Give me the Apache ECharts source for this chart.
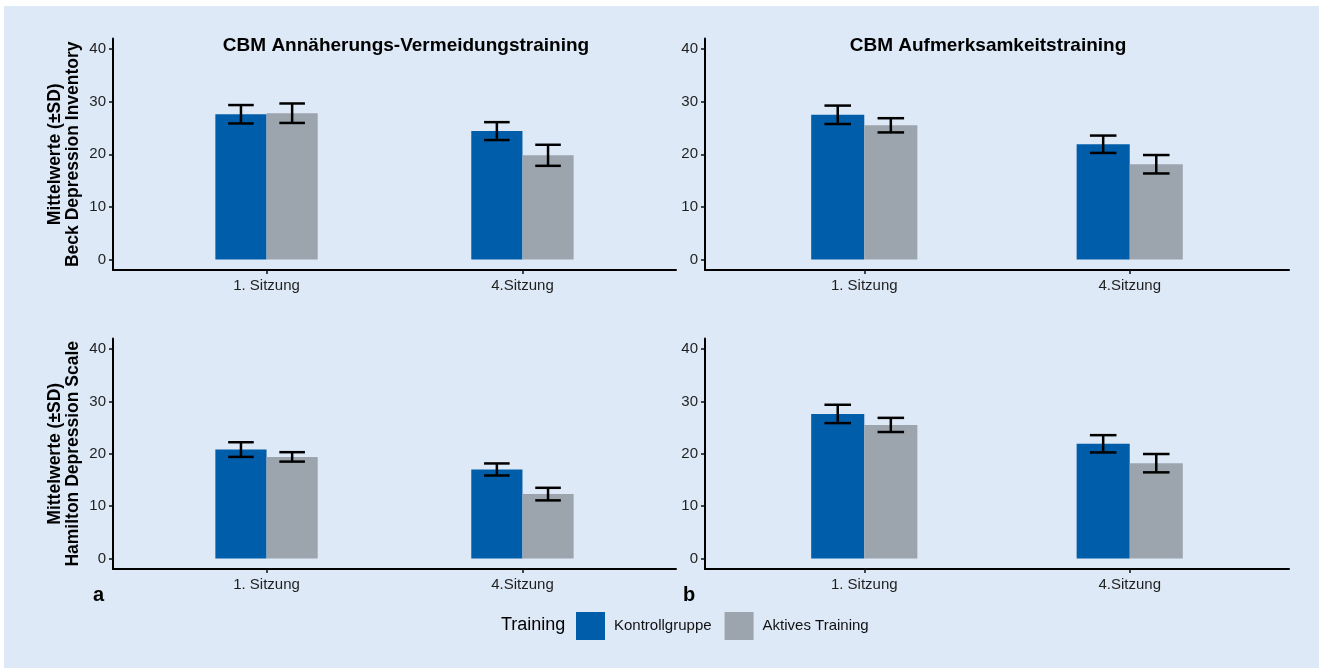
<!DOCTYPE html>
<html>
<head>
<meta charset="utf-8">
<script src="https://cdn.jsdelivr.net/npm/echarts@6/dist/echarts.min.js"></script>
<style>
html,body{margin:0;padding:0;background:#ffffff;}
#c{position:absolute;left:0;top:0;width:1319px;height:668px;}
.strip{position:absolute;background:#ffffff;z-index:5;}
</style>
</head>
<body>
<div id="c"></div>
<div class="strip" style="left:0;top:0;width:1319px;height:6px;"></div>
<div class="strip" style="left:0;top:0;width:4px;height:668px;"></div>
<script>
// ---------- data ----------
const sessions = ['1. Sitzung', '4.Sitzung'];
const groups = ['Kontrollgruppe', 'Aktives Training'];
const yTicks = [0, 10, 20, 30, 40];
const panelTitles = ['CBM Annäherungs-Vermeidungstraining', 'CBM Aufmerksamkeitstraining'];
const scaleTitles = ['Mittelwerte (±SD)\nBeck Depression Inventory', 'Mittelwerte (±SD)\nHamilton Depression Scale'];
const panelLetters = ['a', 'b'];
const legendTitle = 'Training';

// BDI – Annäherungs-Vermeidungstraining
const bdiAvKontrollMean = [27.6, 24.4];
const bdiAvKontrollSD = [1.75, 1.7];
const bdiAvAktivMean = [27.8, 19.8];
const bdiAvAktivSD = [1.85, 2.0];
// BDI – Aufmerksamkeitstraining
const bdiAtKontrollMean = [27.5, 21.9];
const bdiAtKontrollSD = [1.75, 1.65];
const bdiAtAktivMean = [25.5, 18.1];
const bdiAtAktivSD = [1.35, 1.75];
// HAMD – Annäherungs-Vermeidungstraining
const hamdAvKontrollMean = [20.8, 17.0];
const hamdAvKontrollSD = [1.4, 1.15];
const hamdAvAktivMean = [19.4, 12.3];
const hamdAvAktivSD = [0.9, 1.2];
// HAMD – Aufmerksamkeitstraining
const hamdAtKontrollMean = [27.6, 21.9];
const hamdAtKontrollSD = [1.75, 1.65];
const hamdAtAktivMean = [25.5, 18.2];
const hamdAtAktivSD = [1.35, 1.75];

// ---------- styling / layout ----------
const FONT = '"Liberation Sans", Arial, Helvetica, sans-serif';
const BLUE = '#005da9';
const GREY = '#9ca5ae';
const BG = '#dde9f6';
const BAR_W = 0.2;   // in category units
const CAP_W = 0.1;

const panels = [
  {k: bdiAvKontrollMean, ks: bdiAvKontrollSD, a: bdiAvAktivMean, as: bdiAvAktivSD},
  {k: bdiAtKontrollMean, ks: bdiAtKontrollSD, a: bdiAtAktivMean, as: bdiAtAktivSD},
  {k: hamdAvKontrollMean, ks: hamdAvKontrollSD, a: hamdAvAktivMean, as: hamdAvAktivSD},
  {k: hamdAtKontrollMean, ks: hamdAtKontrollSD, a: hamdAtAktivMean, as: hamdAtAktivSD}
];

const grids = [
  {left: 113, top: 38.5, width: 563, height: 231.5},
  {left: 705, top: 38.5, width: 584, height: 231.5},
  {left: 113, top: 338.5, width: 563, height: 230.5},
  {left: 705, top: 338.5, width: 584, height: 230.5}
];

const catPos = sessions.map((s, i) => i + 1);

const xAxes = grids.map((g, i) => ({
  type: 'value', gridIndex: i, min: 0.4, max: 2.6,
  splitLine: {show: false},
  axisLine: {show: true, onZero: false, lineStyle: {color: '#000', width: 2}},
  axisTick: {show: true, customValues: catPos, length: 4, lineStyle: {color: '#111', width: 1.5}},
  axisLabel: {customValues: catPos, formatter: v => sessions[Math.round(v) - 1], margin: 8,
              fontSize: 15, color: '#1f1f1f', fontFamily: FONT}
}));

const yAxes = grids.map((g, i) => ({
  type: 'value', gridIndex: i, min: -2, max: 42,
  splitLine: {show: false},
  axisLine: {show: true, onZero: false, lineStyle: {color: '#000', width: 2}},
  axisTick: {show: true, customValues: yTicks, length: 4, lineStyle: {color: '#111', width: 1.5}},
  axisLabel: {customValues: yTicks, margin: 7, fontSize: 15, color: '#1f1f1f', fontFamily: FONT},
  name: (i % 2 === 0) ? scaleTitles[i / 2] : '',
  nameLocation: 'middle', nameRotate: 90, nameGap: 31,
  nameTextStyle: {fontSize: 17.5, fontWeight: 'bold', lineHeight: 18, color: '#000', fontFamily: FONT, align: 'center'}
}));

function errRender(offset) {
  return function (params, api) {
    const x = api.value(0) + offset;
    const m = api.value(1), s = api.value(2);
    const hi = api.coord([x, m + s]);
    const lo = api.coord([x, m - s]);
    const hw = api.size([CAP_W, 0])[0] / 2;
    const st = {stroke: '#000', lineWidth: 2.5};
    return {type: 'group', children: [
      {type: 'line', shape: {x1: hi[0] - hw, y1: hi[1], x2: hi[0] + hw, y2: hi[1]}, style: st},
      {type: 'line', shape: {x1: lo[0] - hw, y1: lo[1], x2: lo[0] + hw, y2: lo[1]}, style: st},
      {type: 'line', shape: {x1: hi[0], y1: hi[1], x2: lo[0], y2: lo[1]}, style: st}
    ]};
  };
}

const series = [];
panels.forEach((p, i) => {
  series.push({
    type: 'bar', name: groups[0], xAxisIndex: i, yAxisIndex: i,
    data: catPos.map((c, j) => [c, p.k[j]]),
    barWidth: (BAR_W * 100) + '%', barGap: '0%', itemStyle: {color: BLUE}
  });
  series.push({
    type: 'bar', name: groups[1], xAxisIndex: i, yAxisIndex: i,
    data: catPos.map((c, j) => [c, p.a[j]]),
    barWidth: (BAR_W * 100) + '%', barGap: '0%', itemStyle: {color: GREY}
  });
  series.push({
    type: 'custom', name: groups[0] + ' SD', xAxisIndex: i, yAxisIndex: i, z: 5,
    data: catPos.map((c, j) => [c, p.k[j], p.ks[j]]),
    encode: {x: 0, y: 1}, renderItem: errRender(-BAR_W / 2)
  });
  series.push({
    type: 'custom', name: groups[1] + ' SD', xAxisIndex: i, yAxisIndex: i, z: 5,
    data: catPos.map((c, j) => [c, p.a[j], p.as[j]]),
    encode: {x: 0, y: 1}, renderItem: errRender(BAR_W / 2)
  });
});

const titleStyle = {fontSize: 19, fontWeight: 'bold', color: '#000', fontFamily: FONT};

const option = {
  backgroundColor: BG,
  animation: false,
  title: [
    {text: panelTitles[0], left: 406, top: 36, textAlign: 'center', padding: 0, textStyle: titleStyle},
    {text: panelTitles[1], left: 988, top: 36, textAlign: 'center', padding: 0, textStyle: titleStyle}
  ],
  grid: grids,
  xAxis: xAxes,
  yAxis: yAxes,
  legend: {
    data: groups, left: 576, top: 612, padding: 0, orient: 'horizontal',
    icon: 'rect', itemWidth: 29, itemHeight: 28, itemGap: 13,
    textStyle: {fontSize: 15, color: '#111', fontFamily: FONT, padding: [0, 0, 0, 4]}
  },
  graphic: [
    {type: 'text', left: 93, top: 585, style: {text: panelLetters[0], font: 'bold 20px ' + FONT, fill: '#000'}},
    {type: 'text', left: 683, top: 585, style: {text: panelLetters[1], font: 'bold 20px ' + FONT, fill: '#000'}},
    {type: 'text', left: 501, top: 616, style: {text: legendTitle, font: '18px ' + FONT, fill: '#000'}}
  ],
  series: series
};

const chart = echarts.init(document.getElementById('c'), null, {renderer: 'canvas'});
chart.setOption(option);
</script>
</body>
</html>
